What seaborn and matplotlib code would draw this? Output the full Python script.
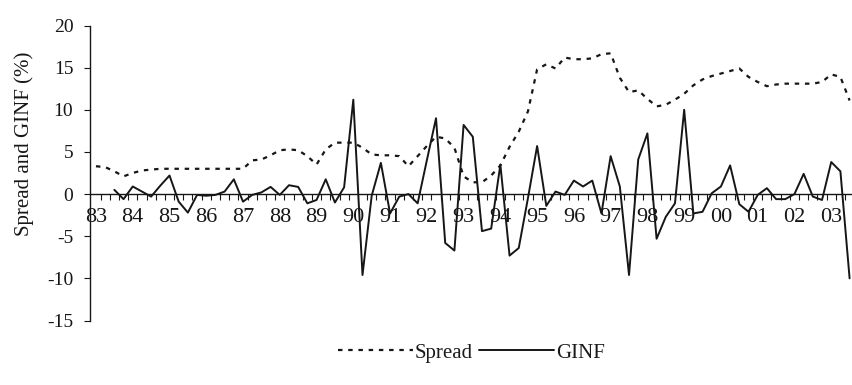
import numpy as np
import pandas as pd
import matplotlib
matplotlib.use("Agg")
import matplotlib.pyplot as plt
import seaborn as sns

# quarterly series, 1983Q1 .. 2003Q3
year_labels = ["83", "84", "85", "86", "87", "88", "89", "90", "91", "92", "93",
               "94", "95", "96", "97", "98", "99", "00", "01", "02", "03"]

spread = [3.3, 3.2, 2.7, 2.1, 2.5, 2.8, 2.9, 3.0, 3.0, 3.0, 3.0, 3.0, 3.0, 3.0,
          3.0, 3.0, 3.0, 4.0, 4.1, 4.6, 5.2, 5.3, 5.2, 4.5, 3.5, 5.3, 6.1, 6.1,
          6.1, 5.5, 4.7, 4.6, 4.6, 4.5, 3.3, 4.5, 5.7, 6.8, 6.6, 5.5, 2.1, 1.4,
          1.4, 2.2, 3.4, 5.6, 7.4, 9.8, 14.8, 15.4, 14.9, 16.2, 16.0, 16.0, 16.1,
          16.6, 16.7, 13.8, 12.1, 12.3, 11.3, 10.4, 10.6, 11.2, 11.9, 12.9, 13.6,
          14.0, 14.3, 14.6, 14.9, 13.9, 13.3, 12.8, 13.0, 13.1, 13.1, 13.1, 13.1,
          13.3, 14.2, 13.9, 11.1]

ginf = [np.nan, np.nan, 0.5, -0.6, 0.9, 0.3, -0.3, 1.0, 2.2, -0.9, -2.2, -0.1,
        -0.2, -0.1, 0.3, 1.75, -0.9, -0.1, 0.2, 0.85, -0.1, 1.05, 0.85, -1.1,
        -0.7, 1.75, -1.0, 0.8, 11.2, -9.6, -0.2, 3.7, -2.3, -0.3, 0.0, -1.1,
        4.0, 9.0, -5.8, -6.7, 8.2, 6.8, -4.4, -4.1, 3.5, -7.3, -6.4, -0.5, 5.7,
        -1.4, 0.3, -0.1, 1.6, 0.9, 1.6, -2.3, 4.5, 0.9, -9.6, 4.1, 7.2, -5.3,
        -2.7, -1.1, 10.0, -2.3, -2.1, 0.1, 0.9, 3.4, -1.2, -2.1, -0.1, 0.7,
        -0.6, -0.6, 0.0, 2.4, -0.3, -0.7, 3.8, 2.7, -10.0]

df = pd.DataFrame({"q": np.arange(len(spread)), "Spread": spread, "GINF": ginf})

sns.set_theme(style="white")
plt.rcParams["font.family"] = ["Liberation Serif", "DejaVu Serif"]
plt.rcParams["text.color"] = "#1a1a1a"
plt.rcParams["axes.unicode_minus"] = False

fig = plt.figure(figsize=(8.53, 3.85), dpi=100)
ax = fig.add_axes([90 / 853, 1 - 320.5 / 385, 763 / 853, 295 / 385])

ink = "#161616"
sns.lineplot(data=df, x="q", y="Spread", color=ink, lw=1.6,
             linestyle=(0, (2, 2.6)), label="Spread", ax=ax)
sns.lineplot(data=df, x="q", y="GINF", color=ink, lw=1.4, label="GINF", ax=ax)

ax.set_xlim(-0.65, 82.37)
ax.set_ylim(-15, 20)

# axis through zero, like the original
ax.spines["bottom"].set_position(("data", 0))
ax.spines["top"].set_visible(False)
ax.spines["right"].set_visible(False)
for s in ["left", "bottom"]:
    ax.spines[s].set_color(ink)
    ax.spines[s].set_linewidth(1.0)

ax.set_xticks(np.arange(0, len(spread), 4))
ax.set_xticklabels(year_labels)
ax.set_xticks(np.arange(0.5, 82.4, 1), minor=True)
ax.tick_params(axis="x", which="major", length=0, pad=10, labelsize=16,
               labelcolor=ink)
ax.tick_params(axis="x", which="minor", bottom=True, length=4, width=0.8,
               direction="out", color=ink)

ax.set_yticks(range(-15, 21, 5))
ax.tick_params(axis="y", left=True, length=4, width=0.8, direction="out",
               color=ink, pad=8, labelsize=14, labelcolor=ink)

ax.set_xlabel("")
ax.set_ylabel("Spread and GINF (%)", fontsize=15, color=ink)
ax.yaxis.set_label_coords(-0.074, 0.60)

ax.legend(loc="center", bbox_to_anchor=(0.5, -0.11), ncol=2, frameon=False,
          fontsize=15, handlelength=3.6, handletextpad=0.1, columnspacing=0.3)

fig.savefig("out.png", dpi=100, facecolor="white")
